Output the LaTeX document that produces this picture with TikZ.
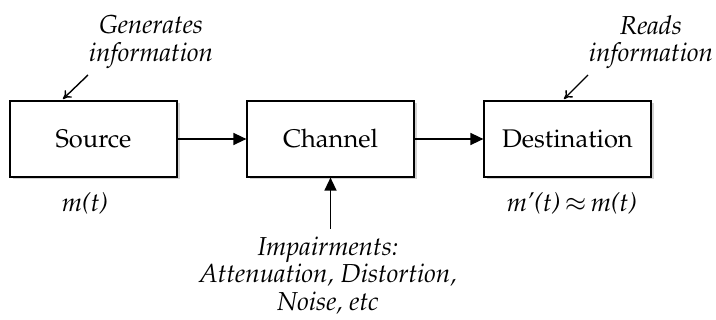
\documentclass[tikz,border=0pt]{standalone}
\usepackage[T1]{fontenc}
\usepackage{mathpazo}
\usetikzlibrary{arrows.meta,shadows}
\begin{document}
\begin{tikzpicture}[x=1pt,y=-1pt,
  block/.style={draw,line width=1.2pt,fill=white,minimum width=167pt,minimum height=76pt,
    inner sep=0pt,font=\fontsize{25.5}{30}\selectfont,
    drop shadow={shadow xshift=2.5pt,shadow yshift=-2.5pt,opacity=0.35,fill=black!50}},
  note/.style={font=\fontsize{26}{27.5}\selectfont\itshape,align=center,inner sep=0pt},
  flow/.style={line width=1.4pt,-{Triangle[length=13pt,width=12pt]}},
  hint/.style={line width=1.4pt,-{To[length=8pt,width=10pt]}}]
\useasboundingbox (0,0) rectangle (716,320);
% the three stages of the link
\node[block] (src) at (93.5,139) {Source};
\node[block] (chn) at (330.5,139) {Channel};
\node[block] (dst) at (567.5,139) {Destination};
% signal flow
\draw[flow] (src.east) -- (chn.west);
\draw[flow] (chn.east) -- (dst.west);
% annotations
\node[note] (gen) at (151,42) {Generates\\information};
\coordinate (g1) at (88,75);
\coordinate (g2) at (63,99);
\draw[hint] (g1) -- (g2);
\node[note] (rd) at (651,42) {Reads\\information};
\coordinate (r1) at (588,75);
\coordinate (r2) at (564,99);
\draw[hint] (r1) -- (r2);
\node[note] (ms) at (85,204) {m(t)};
\node[note] (md) at (572,204) {m'(t)\,$\approx$\,m(t)};
\node[note] (imp) at (328,275) {Impairments:\\Attenuation, Distortion,\\Noise, etc};
\coordinate (i1) at (330.5,229);
\draw[flow] (i1) -- (chn.south);
\end{tikzpicture}
\end{document}
